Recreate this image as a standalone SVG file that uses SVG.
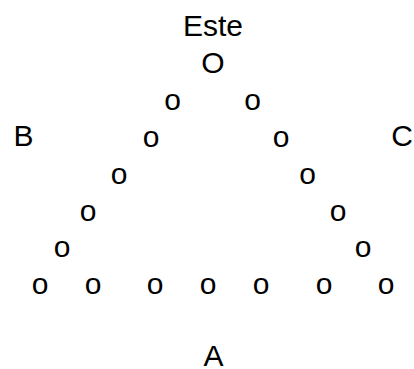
<svg xmlns="http://www.w3.org/2000/svg" width="414" height="369" viewBox="0 0 414 369">
<style>
text{font-family:"Liberation Sans",Arial,sans-serif;font-size:30px;fill:#000;text-anchor:middle}
</style>
<rect width="414" height="369" fill="#fff"/>
<g id="este"><text x="213" y="36">Este</text></g>
<g id="O"><text x="213" y="73">O</text></g>
<g id="B"><text x="23.5" y="146">B</text></g>
<g id="C"><text x="402" y="146">C</text></g>
<g id="A"><text x="213.5" y="366">A</text></g>
<g id="dots">
<text x="172.5" y="110">o</text><text x="252.5" y="110">o</text>
<text x="151" y="147">o</text><text x="281" y="147">o</text>
<text x="119" y="184">o</text><text x="307.5" y="184">o</text>
<text x="88" y="221">o</text><text x="338" y="221">o</text>
<text x="62" y="257">o</text><text x="363" y="257">o</text>
<text x="40" y="294">o</text><text x="93" y="294">o</text><text x="155" y="294">o</text><text x="208" y="294">o</text><text x="261" y="294">o</text><text x="324" y="294">o</text><text x="386" y="294">o</text>
</g>
</svg>
